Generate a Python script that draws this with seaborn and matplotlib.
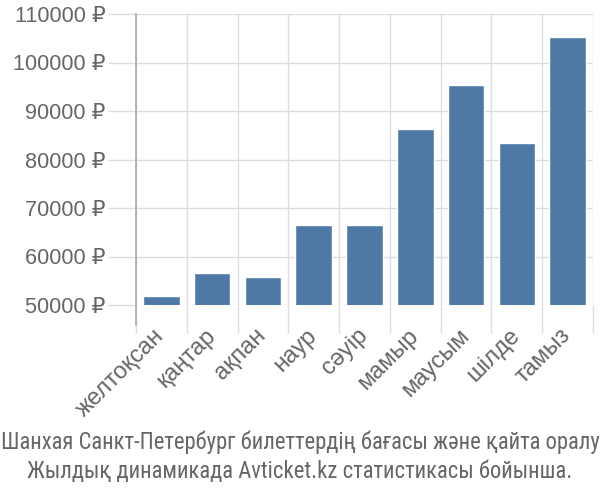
import matplotlib
matplotlib.use("Agg")
import matplotlib.pyplot as plt
import matplotlib.font_manager as fm
import matplotlib.transforms as mtransforms
import seaborn as sns
import pandas as pd
import numpy as np

months = ["желтоқсан", "қаңтар", "ақпан", "наур", "сәуір", "мамыр", "маусым", "шілде", "тамыз"]
prices = [51900, 56600, 55700, 66500, 66500, 86200, 95300, 83500, 105300]
yticks = [50000, 60000, 70000, 80000, 90000, 100000, 110000]
caption = ["Шанхая Санкт-Петербург билеттердің бағасы және қайта оралу",
           "Жылдық динамикада Avticket.kz статистикасы бойынша."]

sns.set_theme(style="white")
plt.rcParams['font.family'] = ['Liberation Sans', 'DejaVu Sans']

GRID = "#dddddd"
TXT = "#666666"

# pick a condensed font for the caption if one is installed
cands = [("Liberation Sans Narrow", None), ("Roboto Condensed", None),
         ("Liberation Sans", "condensed"), ("Noto Sans", "condensed"),
         ("Open Sans", "condensed"), ("DejaVu Sans", "condensed")]
cap_family, cap_stretch = "Liberation Sans", "normal"
fl = fm.fontManager.ttflist
for fam, st in cands:
    ok = False
    for f in fl:
        if f.name == fam:
            if st is None:
                ok = True
            elif isinstance(f.stretch, str) and 'condensed' in f.stretch:
                ok = True
            elif isinstance(f.stretch, (int, float)) and f.stretch < 500:
                ok = True
        if ok:
            break
    if ok:
        cap_family, cap_stretch = fam, (st or "normal")
        break

fig = plt.figure(figsize=(6, 5), dpi=100)
ax = fig.add_axes([136/600, 1-305/500, (593-136)/600, (305-14)/500])

df = pd.DataFrame({"month": months, "price": prices})
sns.barplot(data=df, x="month", y="price", color="#4e79a7", saturation=1,
            width=0.72, ax=ax, zorder=3)

ax.set_ylim(50000, 110000)
ax.set_xlim(-0.5, len(months) - 0.5)
ax.set_xlabel("")
ax.set_ylabel("")

ax.set_yticks(yticks)
ax.set_yticklabels([f"{v} ₽" for v in yticks])
ax.tick_params(axis='y', left=True, length=20, width=1, color=GRID, labelsize=15.6,
               labelcolor=TXT, pad=2)

ax.set_xticks(range(len(months)))
ax.set_xticklabels(months, rotation=45, ha='right', rotation_mode='anchor')
ax.tick_params(axis='x', which='major', bottom=True, length=0, labelsize=17,
               labelcolor=TXT, pad=4)
ax.set_xticks(np.arange(-0.5, len(months), 1), minor=True)
ax.tick_params(axis='x', which='minor', bottom=True, length=20, width=1, color=GRID)
off = mtransforms.ScaledTranslation(-8/100, -14/100, fig.dpi_scale_trans)
for lab in ax.get_xticklabels():
    lab.set_transform(lab.get_transform() + off)

ax.grid(True, axis='y', which='major', color=GRID, lw=1, zorder=0)
ax.grid(True, axis='x', which='minor', color=GRID, lw=1, zorder=0)
ax.set_axisbelow(True)

for s in ["top", "right", "bottom"]:
    ax.spines[s].set_visible(False)
ax.spines["left"].set_color("#aaaaaa")
ax.spines["left"].set_linewidth(1.2)
ax.spines["left"].set_bounds(50000 - 20 * 60000 / 291, 110000)

renderer = fig.canvas.get_renderer()
texts = []
for i, line in enumerate(caption):
    t = fig.text(0.5, 1 - (442 + 30 * i)/500, line, ha='center', va='center',
                 fontsize=13, color=TXT, family=[cap_family, 'DejaVu Sans'],
                 fontstretch=cap_stretch)
    texts.append(t)
wmax = max(t.get_window_extent(renderer).width for t in texts)
for t in texts:
    t.set_fontsize(13 * 596 / wmax)

fig.savefig("out.png", dpi=100)
